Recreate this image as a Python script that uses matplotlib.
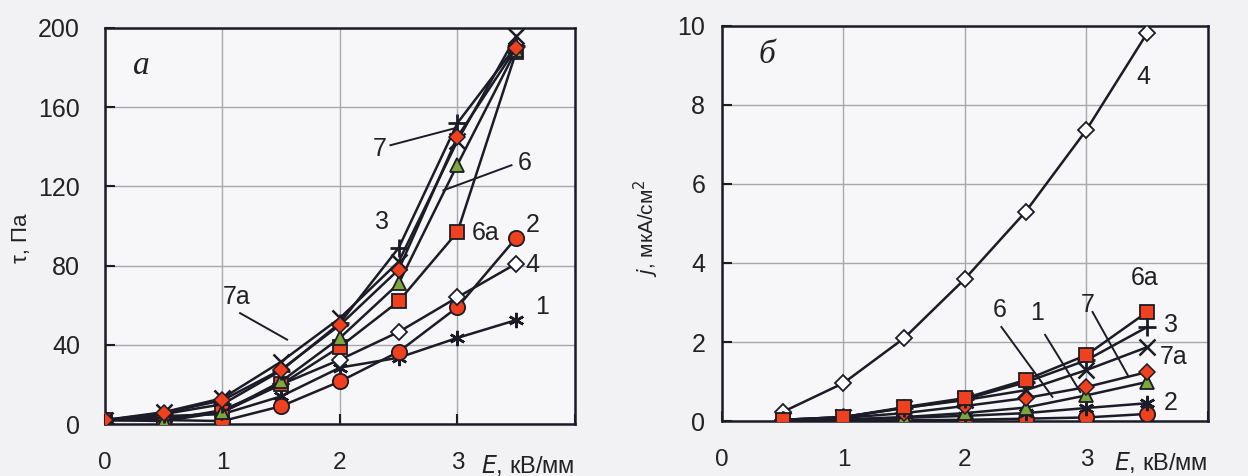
import numpy as np
import matplotlib
matplotlib.use('Agg')
import matplotlib.pyplot as plt

plt.rcParams['font.family'] = ['Liberation Sans', 'DejaVu Sans']

# panel a: shear stress tau (Pa) vs field E (kV/mm)
E_a = [0, 0.5, 1, 1.5, 2, 2.5, 3, 3.5]
tau_1 = [2, 4, 5, 14, 28.5, 33.5, 43.5, 52.5]
tau_2 = [2, 2, 1.5, 9, 21.5, 36.5, 59, 94]
tau_4 = [2, 3, 6, 20, 32.5, 46.5, 64, 81]
tau_6a = [2, 2, 7, 20, 39, 62, 97, 188]
tau_6 = [2, 1.5, 6, 21.5, 43.5, 71, 131, 189]
tau_3 = [2, 5, 10, 27, 51, 89, 152, 191]
tau_7a = [2, 6, 13, 31.5, 53.5, 82, 143, 196]
tau_7 = [2, 5.5, 12, 27.5, 50, 78, 145, 190]

# panel b: current density j (uA/cm2) vs field E (kV/mm)
E_b = [0.5, 1, 1.5, 2, 2.5, 3, 3.5]
j_4 = [0.23, 0.96, 2.1, 3.6, 5.3, 7.37, 9.82]
j_6a = [0.03, 0.1, 0.35, 0.58, 1.04, 1.67, 2.76]
j_3 = [0.03, 0.1, 0.33, 0.55, 0.98, 1.54, 2.38]
j_7a = [0.03, 0.1, 0.33, 0.53, 0.78, 1.29, 1.87]
j_7 = [0.02, 0.08, 0.2, 0.38, 0.58, 0.86, 1.24]
j_6 = [0.01, 0.04, 0.1, 0.2, 0.34, 0.65, 0.99]
j_1 = [0.01, 0.03, 0.08, 0.13, 0.2, 0.33, 0.45]
j_2 = [0.01, 0.01, 0.02, 0.03, 0.06, 0.09, 0.18]

red = '#f0401e'
green = '#7fa83c'
ink = '#1c1c28'

#Marker styles for each sample
styles = {
    '1': dict(marker=(6, 2, 0), ms=11, mfc=ink, mec=ink, mew=1.8),
    '2': dict(marker='o', ms=11, mfc=red, mec=ink, mew=1.3),
    '4': dict(marker='D', ms=8, mfc='white', mec=ink, mew=1.3),
    '6a': dict(marker='s', ms=10.5, mfc=red, mec=ink, mew=1.3),
    '6': dict(marker='^', ms=10.5, mfc=green, mec=ink, mew=1.3),
    '3': dict(marker='+', ms=13, mfc=ink, mec=ink, mew=2.0),
    '7a': dict(marker='x', ms=11, mfc=ink, mec=ink, mew=1.8),
    '7': dict(marker='D', ms=8.5, mfc=red, mec=ink, mew=1.1),
}

series_a = [('1', tau_1), ('2', tau_2), ('4', tau_4), ('6a', tau_6a),
            ('6', tau_6), ('3', tau_3), ('7a', tau_7a), ('7', tau_7)]
series_b = [('4', j_4), ('2', j_2), ('1', j_1), ('6', j_6), ('7', j_7),
            ('7a', j_7a), ('3', j_3), ('6a', j_6a)]

fig = plt.figure(figsize=(12.48, 4.76), dpi=100)
fig.patch.set_facecolor('#f2f2f4')
ax1 = fig.add_axes([0.0841, 0.1092, 0.3766, 0.832])
ax2 = fig.add_axes([0.5785, 0.1155, 0.3894, 0.830])

def style_axes(ax, ymax, ystep, ypad):
    ax.set_facecolor('#f7f7f9')
    ax.set_xlim(0, 4)
    ax.set_ylim(0, ymax)
    ax.set_xticks([0, 1, 2, 3, 4])
    ax.set_xticklabels(['0', '1', '2', '3', ''])
    ax.set_yticks(np.arange(0, ymax + 0.1, ystep))
    ax.grid(True, color='#a8a8ac', lw=1.0, zorder=0)
    for s in ax.spines.values():
        s.set_color(ink)
        s.set_linewidth(1.8)
    ax.tick_params(axis='both', direction='in', length=7, width=1.5, color=ink,
                   labelsize=18, labelcolor='#222222')
    ax.tick_params(axis='x', pad=20, labelsize=17.5)
    ax.tick_params(axis='y', pad=ypad)
    ax.text(1.0, -0.105, '$\\mathit{E}$, кВ/мм', transform=ax.transAxes,
            ha='right', va='center', fontsize=17, color='#222222')

style_axes(ax1, 200, 40, 18)
style_axes(ax2, 10, 2, 12)

for name, vals in series_a:
    ax1.plot(E_a, vals, color=ink, lw=1.8, zorder=3, **styles[name])
for name, vals in series_b:
    ax2.plot(E_b, vals, color=ink, lw=1.8, zorder=3, **styles[name])

ax1.set_yticklabels(['0', '40', '80', '120', '160', '200'])
fig.text(0.017, 0.50, 'τ, Па', rotation=90, ha='center', va='center', fontsize=16, color='#222222')
fig.text(0.518, 0.52, '$\\mathit{j}$, мкА/см$^2$', rotation=90, ha='center', va='center',
         fontsize=15, color='#222222')

# panel letters
ax1.text(0.24, 177, 'а', fontsize=24, style='italic', family='Liberation Serif', color='#222222')
ax2.text(0.3, 9.05, 'б', fontsize=24, style='italic', family='Liberation Serif', color='#222222')

# curve labels, panel a
lab = dict(fontsize=18, color='#222222', ha='center', va='center', zorder=5)
for txt, x, y in [('7', 2.34, 139), ('6', 3.57, 132), ('3', 2.36, 102), ('6а', 3.24, 96.5),
                  ('2', 3.64, 100.5), ('4', 3.64, 80.5), ('1', 3.72, 59), ('7а', 1.12, 64)]:
    ax1.text(x, y, txt, **lab)
for x0, y0, x1, y1 in [(2.43, 140.8, 2.98, 149.4), (3.46, 130.7, 2.88, 118),
                       (1.15, 56, 1.55, 42.6)]:
    ax1.plot([x0, x1], [y0, y1], color=ink, lw=1.4, zorder=4)

# curve labels, panel b
for txt, x, y in [('4', 3.47, 8.71), ('6а', 3.48, 3.62), ('3', 3.70, 2.43), ('7а', 3.72, 1.62),
                  ('2', 3.69, 0.46), ('6', 2.29, 2.81), ('1', 2.59, 2.73), ('7', 3.01, 2.94)]:
    ax2.text(x, y, txt, **lab)
for x0, y0, x1, y1 in [(2.30, 2.38, 2.72, 0.61), (2.66, 2.18, 2.95, 0.73),
                       (3.05, 2.76, 3.34, 1.16)]:
    ax2.plot([x0, x1], [y0, y1], color=ink, lw=1.4, zorder=4)

fig.savefig('out.png', dpi=100, facecolor=fig.get_facecolor())
